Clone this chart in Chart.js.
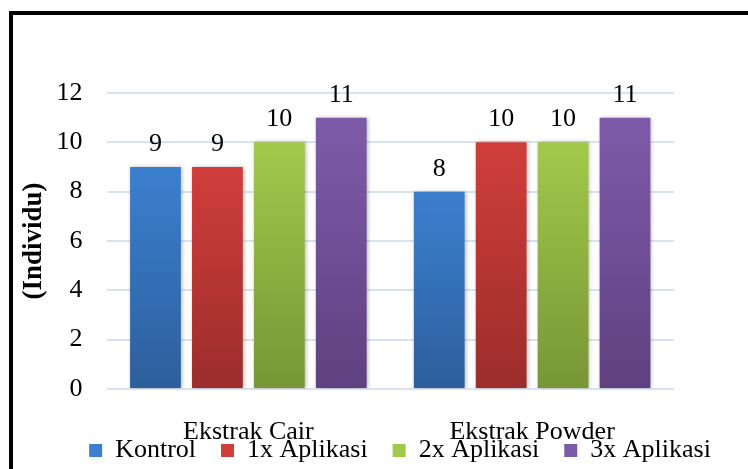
<!DOCTYPE html>
<html>
<head>
<meta charset="utf-8">
<title>Individu</title>
<script src="https://cdn.jsdelivr.net/npm/chart.js@4.4.1/dist/chart.umd.min.js"></script>
<style>
  html, body { margin: 0; padding: 0; background: #fff; overflow: hidden; width: 748px; height: 469px; }
  #wrap { position: absolute; left: 0; top: 0; width: 800px; height: 480px; }
  canvas { display: block; }
</style>
</head>
<body>
<div id="wrap"><canvas id="chart" width="800" height="480"></canvas></div>
<script>
// Categories and series
const categories = ['Ekstrak Cair', 'Ekstrak Powder'];
const seriesNames = ['Kontrol', '1x Aplikasi', '2x Aplikasi', '3x Aplikasi'];
const kontrol = [9, 8];
const aplikasi1x = [9, 10];
const aplikasi2x = [10, 10];
const aplikasi3x = [11, 11];
const yTicks = [0, 2, 4, 6, 8, 10, 12];
const yTitle = '(Individu)';

// Top / bottom shades for each series gradient
const shades = [
  ['#3c7fcf', '#2c5f9c'],
  ['#d03e3b', '#9b2d2b'],
  ['#a2c94b', '#779636'],
  ['#7e5ba9', '#5e4180']
];
const values = [kontrol, aplikasi1x, aplikasi2x, aplikasi3x];

const FONT = "'Liberation Serif', 'Times New Roman', serif";

function barGradient(index) {
  return function (ctx) {
    const chart = ctx.chart;
    if (!chart.chartArea || ctx.type !== 'data') return shades[index][0];
    const y = chart.scales.y;
    const top = y.getPixelForValue(ctx.raw);
    const base = y.getPixelForValue(0);
    const g = chart.ctx.createLinearGradient(0, top, 0, base);
    g.addColorStop(0, shades[index][0]);
    g.addColorStop(1, shades[index][1]);
    return g;
  };
}

// Value labels above each bar
const valueLabels = {
  id: 'valueLabels',
  afterDatasetsDraw(chart) {
    const c = chart.ctx;
    c.save();
    c.font = '26px ' + FONT;
    c.fillStyle = '#000';
    c.textAlign = 'center';
    c.textBaseline = 'alphabetic';
    chart.data.datasets.forEach((ds, i) => {
      chart.getDatasetMeta(i).data.forEach((bar, j) => {
        c.fillText(String(ds.data[j]), bar.x, bar.y - 16);
      });
    });
    c.restore();
  }
};

// Category names under the groups, placed by the x scale
const categoryLabels = {
  id: 'categoryLabels',
  afterDraw(chart) {
    const x = chart.scales.x;
    const c = chart.ctx;
    c.save();
    c.font = '26px ' + FONT;
    c.fillStyle = '#000';
    c.textAlign = 'center';
    c.textBaseline = 'alphabetic';
    chart.data.labels.forEach((label, i) => {
      c.fillText(label, x.getPixelForTick(i), chart.chartArea.bottom + 49.5);
    });
    c.restore();
  }
};

// Soft shadow behind the bars
const barShadow = {
  id: 'barShadow',
  beforeDatasetsDraw(chart) {
    const c = chart.ctx;
    c.save();
    c.shadowColor = 'rgba(0,0,0,0.28)';
    c.shadowBlur = 4;
    c.shadowOffsetX = 1;
    c.shadowOffsetY = 0;
  },
  afterDatasetsDraw(chart) {
    chart.ctx.restore();
  }
};

// Black frame round the chart
const frame = {
  id: 'frame',
  beforeDraw(chart) {
    const c = chart.ctx;
    c.save();
    c.fillStyle = '#fff';
    c.fillRect(0, 0, chart.width, chart.height);
    c.strokeStyle = '#000';
    c.lineWidth = 4;
    c.strokeRect(11, 13, chart.width + 20, chart.height + 20);
    c.restore();
  }
};

new Chart(document.getElementById('chart'), {
  type: 'bar',
  data: {
    labels: categories,
    datasets: seriesNames.map((name, i) => ({
      label: name,
      data: values[i],
      backgroundColor: barGradient(i),
      borderWidth: 0,
      categoryPercentage: 0.873,
      barPercentage: 0.82
    }))
  },
  options: {
    responsive: false,
    animation: false,
    devicePixelRatio: 1,
    layout: { padding: { top: 93, left: 16, right: 16, bottom: 6.5 } },
    scales: {
      x: {
        grid: { display: false, drawTicks: false },
        border: { display: false },
        ticks: { display: false },
        afterFit(scale) { scale.height = 23.5; }
      },
      y: {
        min: 0,
        max: 12,
        afterBuildTicks(scale) { scale.ticks = yTicks.map(v => ({ value: v })); },
        grid: { color: '#d9e3f0', lineWidth: 2, drawTicks: false },
        border: { display: false },
        ticks: { padding: 24, color: '#000', font: { family: FONT, size: 26 } },
        title: {
          display: true,
          text: yTitle,
          color: '#000',
          padding: { top: 2, bottom: 6 },
          font: { family: FONT, size: 27, weight: 'bold' }
        },
        afterFit(scale) { scale.width = 90.5; }
      },
      yRight: {
        position: 'right',
        display: true,
        min: 0,
        max: 12,
        grid: { display: false, drawTicks: false },
        border: { display: false },
        ticks: { display: false },
        afterFit(scale) { scale.width = 110; }
      }
    },
    plugins: {
      legend: {
        position: 'bottom',
        labels: {
          color: '#000',
          boxWidth: 13,
          boxHeight: 13,
          padding: 25,
          font: { family: FONT, size: 26 },
          generateLabels(chart) {
            return chart.data.datasets.map((ds, i) => ({
              text: ds.label,
              fillStyle: shades[i][0],
              strokeStyle: 'rgba(0,0,0,0)',
              lineWidth: 0,
              hidden: false,
              datasetIndex: i
            }));
          }
        }
      },
      tooltip: { enabled: false }
    }
  },
  plugins: [frame, barShadow, valueLabels, categoryLabels]
});
</script>
</body>
</html>
